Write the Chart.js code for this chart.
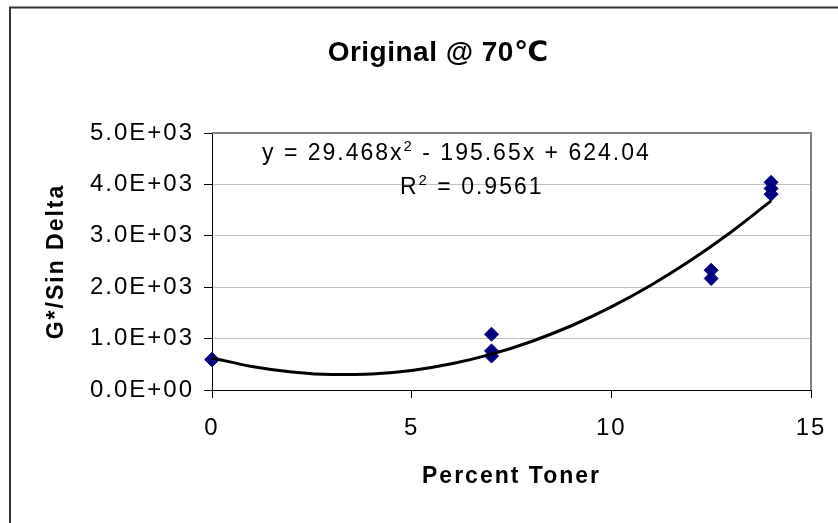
<!DOCTYPE html>
<html><head><meta charset="utf-8">
<script src="https://cdn.jsdelivr.net/npm/chart.js@4/dist/chart.umd.min.js"></script>
<style>html,body{margin:0;padding:0;background:#fff;}#wrap{width:838px;height:523px;}</style>
</head><body>
<div id="wrap"><canvas id="c" width="838" height="523"></canvas></div>
<script>
const titleText = 'Original @ 70\u2103';
const xAxisTitle = 'Percent Toner';
const yAxisTitle = 'G*/Sin Delta';
const xTickValues = [0, 5, 10, 15];
const xTickLabels = ['0', '5', '10', '15'];
const yTickValues = [0, 1000, 2000, 3000, 4000, 5000];
const yTickLabels = ['0.0E+00', '1.0E+03', '2.0E+03', '3.0E+03', '4.0E+03', '5.0E+03'];
const tonerPct = [0, 0, 7, 7, 7, 12.5, 12.5, 14, 14, 14];
const gStarSinDelta = [598, 585, 1085, 760, 660, 2330, 2170, 4040, 3920, 3810];
const trendX = [0, 1, 2, 3, 4, 5, 6, 7, 8, 9, 10, 11, 12, 13, 14];
const trendY = [624, 458, 351, 302, 313, 381, 510, 697, 944, 1250, 1617, 2043, 2528, 3074, 3679];
const trendCoef = [29.468, -195.65, 624.04];
const rSquared = 0.9561;

const FONT = '"Liberation Sans", Arial, "DejaVu Sans", sans-serif';
Chart.defaults.font.family = FONT;
Chart.defaults.color = '#000';

const decor = {
  id: 'decor',
  afterInit(chart) { chart.ctx.letterSpacing = '2px'; },
  beforeDraw(chart) {
    const ctx = chart.ctx;
    ctx.save();
    ctx.fillStyle = '#fff';
    ctx.fillRect(0, 0, chart.width, chart.height);
    ctx.strokeStyle = '#333';
    ctx.lineWidth = 2;
    ctx.strokeRect(10, 7.5, 1000, 1000);
    // chart title
    ctx.letterSpacing = '0.5px';
    ctx.fillStyle = '#000';
    ctx.font = 'bold 28px ' + FONT;
    ctx.textAlign = 'center';
    ctx.textBaseline = 'middle';
    ctx.fillText(titleText, 438, 53);
    ctx.restore();
  },
  beforeDatasetsDraw(chart) {
    const ctx = chart.ctx, a = chart.chartArea;
    ctx.save();
    ctx.strokeStyle = '#808080';
    ctx.lineWidth = 2;
    ctx.beginPath();
    ctx.moveTo(a.left, a.top);
    ctx.lineTo(a.right, a.top);
    ctx.lineTo(a.right, a.bottom);
    ctx.stroke();
    ctx.restore();
  },
  afterDraw(chart) {
    const ctx = chart.ctx;
    const drawParts = (parts, x, y) => {
      for (const p of parts) {
        ctx.font = (p.sup ? '15px ' : '23px ') + FONT;
        ctx.fillText(p.t, x, p.sup ? y - 9 : y);
        x += ctx.measureText(p.t).width;
      }
    };
    ctx.save();
    ctx.fillStyle = '#000';
    ctx.textBaseline = 'alphabetic';
    ctx.textAlign = 'left';
    const [a, b, c] = trendCoef;
    drawParts([
      {t: 'y = ' + a + 'x'}, {t: '2', sup: true},
      {t: ' ' + (b < 0 ? '-' : '+') + ' ' + Math.abs(b) + 'x ' + (c < 0 ? '-' : '+') + ' ' + Math.abs(c)}
    ], 262, 160);
    drawParts([{t: 'R'}, {t: '2', sup: true}, {t: ' = ' + rSquared}], 400, 194);
    ctx.restore();
  }
};

new Chart(document.getElementById('c'), {
  type: 'scatter',
  data: {
    datasets: [
      {
        label: 'Trend',
        data: trendX.map((x, i) => ({x, y: trendY[i]})),
        showLine: true,
        borderColor: '#000',
        borderWidth: 3,
        pointRadius: 0,
        cubicInterpolationMode: 'monotone',
        fill: false,
        clip: false
      },
      {
        label: 'Data',
        data: tonerPct.map((x, i) => ({x, y: gStarSinDelta[i]})),
        pointStyle: 'rectRot',
        pointRadius: 7,
        backgroundColor: '#000080',
        borderColor: '#000080',
        borderWidth: 1,
        showLine: false,
        clip: false
      }
    ]
  },
  options: {
    responsive: false,
    animation: false,
    events: [],
    layout: {padding: {left: 38, right: 27, top: 133, bottom: 0}},
    plugins: {
      legend: {display: false},
      tooltip: {enabled: false},
      title: {display: false}
    },
    scales: {
      x: {
        type: 'linear',
        min: 0, max: 15,
        afterBuildTicks(s) { s.ticks = xTickValues.map(v => ({value: v})); },
        afterFit(s) { s.height = 133; s.paddingLeft = 0; s.paddingRight = 0; },
        ticks: {
          callback: (v, i) => xTickLabels[i],
          font: {size: 24},
          color: '#000',
          padding: 16,
          maxRotation: 0,
          autoSkip: false
        },
        grid: {drawOnChartArea: false, drawTicks: true, tickLength: 8, color: '#000'},
        border: {color: '#000', width: 1},
        title: {
          display: true,
          text: xAxisTitle,
          color: '#000',
          font: {size: 23, weight: 'bold'},
          padding: {top: 0, bottom: 33}
        }
      },
      y: {
        type: 'linear',
        min: 0, max: 5000,
        afterBuildTicks(s) { s.ticks = yTickValues.map(v => ({value: v})); },
        afterFit(s) { s.width = 174; s.paddingTop = 0; s.paddingBottom = 0; },
        ticks: {
          callback: (v, i) => yTickLabels[i],
          font: {size: 24},
          color: '#000',
          padding: 10,
          autoSkip: false
        },
        grid: {color: '#c0c0c0', tickColor: '#000', tickLength: 8, lineWidth: 1},
        border: {color: '#000', width: 1},
        title: {
          display: true,
          text: yAxisTitle,
          color: '#000',
          font: {size: 23, weight: 'bold'},
          padding: {top: 5, bottom: 0}
        }
      }
    }
  },
  plugins: [decor]
});
</script>
</body></html>
